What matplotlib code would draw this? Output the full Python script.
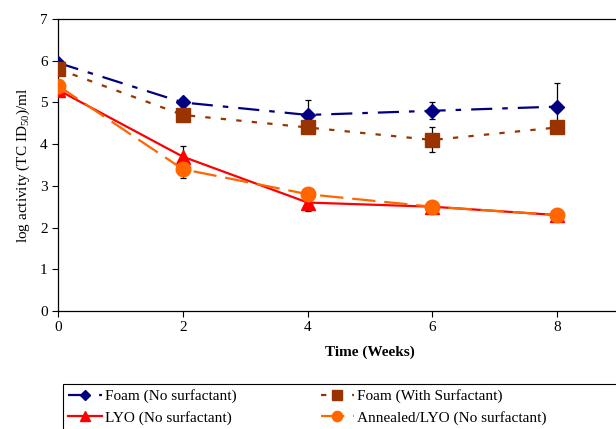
import matplotlib
matplotlib.use("Agg")
import matplotlib.pyplot as plt
from matplotlib.patches import Rectangle
import numpy as np

plt.rcParams['font.family'] = ['Liberation Serif', 'DejaVu Serif']
plt.rcParams['mathtext.fontset'] = 'custom'
plt.rcParams['mathtext.rm'] = 'Liberation Serif'

# storage time points
weeks = [0, 2, 4, 6, 8]

foam_no_surf = [5.95, 5.0, 4.7, 4.8, 4.9]
foam_no_surf_err = [0.0, 0.0, 0.35, 0.2, 0.57]

foam_with_surf = [5.8, 4.7, 4.4, 4.1, 4.4]
foam_with_surf_err = [0.0, 0.0, 0.0, 0.3, 0.0]

lyo_no_surf = [5.3, 3.7, 2.6, 2.5, 2.3]
lyo_no_surf_err = [0.0, 0.25, 0.2, 0.0, 0.0]

annealed_lyo = [5.4, 3.4, 2.8, 2.5, 2.3]
annealed_lyo_err = [0.0, 0.2, 0.0, 0.0, 0.0]

fig = plt.figure(figsize=(6.16, 4.29), dpi=100)
# axes run past the right edge of the figure on purpose
ax = fig.add_axes([58 / 616, 118 / 429, 624 / 616, 292 / 429])

series = [
    (foam_no_surf, foam_no_surf_err, 'Foam (No surfactant)', '#000080', 'D', 7.5, (0, (9.5, 4.5, 2.5, 4.5))),
    (foam_with_surf, foam_with_surf_err, 'Foam (With Surfactant)', '#993300', 's', 10.5, (0, (2.4, 4.6))),
    (lyo_no_surf, lyo_no_surf_err, 'LYO (No surfactant)', '#FF0000', '^', 10, '-'),
    (annealed_lyo, annealed_lyo_err, 'Annealed/LYO (No surfactant)', '#FF6600', 'o', 10.5, (0, (10.5, 4))),
]

handles = []
for vals, errs, label, color, marker, ms, ls in series:
    errs = np.array(errs)
    mask = errs > 0
    ax.errorbar(np.array(weeks)[mask], np.array(vals)[mask], yerr=errs[mask],
                fmt='none', ecolor='black', elinewidth=0.9, capsize=2.5,
                capthick=0.9, zorder=2)
    line, = ax.plot(weeks, vals, color=color, linestyle=ls, linewidth=1.6,
                    marker=marker, markersize=ms, markerfacecolor=color,
                    markeredgecolor=color, label=label, zorder=3)
    handles.append(line)

ax.set_xlim(0, 10)
ax.set_ylim(0, 7)
ax.set_xticks([0, 2, 4, 6, 8])
ax.set_yticks(range(0, 8))
ax.tick_params(direction='out', length=4, width=0.8, labelsize=11)
for sp in ax.spines.values():
    sp.set_linewidth(0.9)

ax.set_xlabel('Time (Weeks)', fontsize=11, fontweight='bold', labelpad=8)
ax.set_ylabel('log activity (TC ID$_{50}$)/ml', fontsize=11, labelpad=6)

# legend is filled row by row: reorder for matplotlib's column-major layout
order = [0, 2, 1, 3]
leg = fig.legend(handles=[handles[i] for i in order], loc='upper left', ncol=2,
                 bbox_to_anchor=(63 / 616, 1 - 384 / 429), frameon=False,
                 fontsize=11, markerscale=0.7,
                 handlelength=2.2, handletextpad=0.2, columnspacing=5.5,
                 borderpad=0.35, labelspacing=0.5, borderaxespad=0)

# legend box, cut off by the right edge like the axes
fig.patches.append(Rectangle((63 / 616, 1 - 434 / 429), 600 / 616, 50 / 429,
                             transform=fig.transFigure, fill=False,
                             edgecolor='black', linewidth=0.8))

fig.savefig('out.png', dpi=100)
